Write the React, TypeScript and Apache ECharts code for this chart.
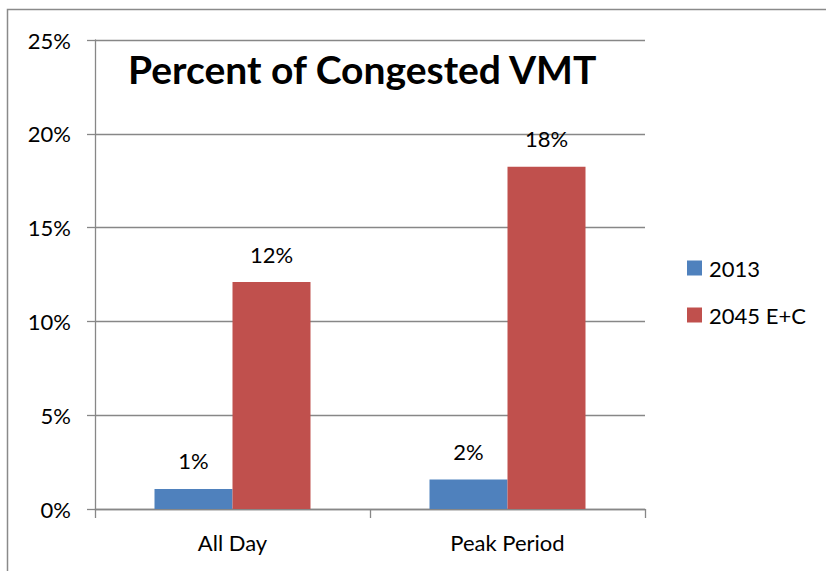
import React, { useEffect, useRef } from "react";
import * as echarts from "echarts";

const categories = ["All Day", "Peak Period"];
const series2013 = [1.07, 1.57];
const series2045 = [12.1, 18.25];
const seriesNames = ["2013", "2045 E+C"];
const yTicks = [0, 5, 10, 15, 20, 25];

const FONT = "Lato, 'Open Sans', sans-serif";
const AXIS_COLOR = "#878787";

export default function App() {
  const ref = useRef<HTMLDivElement>(null);
  useEffect(() => {
    if (!ref.current) return;
    const chart = echarts.init(ref.current, undefined, { renderer: "svg" });
    const labelCfg = {
      show: true,
      position: "top" as const,
      distance: 17,
      fontSize: 22,
      color: "#000",
      fontFamily: FONT,
      formatter: (p: any) => Math.round(p.value) + "%",
    };
    chart.setOption({
      animation: false,
      backgroundColor: "#fff",
      textStyle: { fontFamily: FONT },
      title: {
        text: "Percent of Congested VMT",
        left: 123,
        top: 44,
        textStyle: { fontSize: 39, fontWeight: "bold", color: "#000", fontFamily: FONT },
      },
      legend: {
        orient: "vertical",
        left: 682,
        top: 252,
        itemWidth: 15,
        itemHeight: 15,
        itemGap: 25,
        icon: "rect",
        data: seriesNames,
        textStyle: { fontSize: 22, color: "#000", fontFamily: FONT, padding: [0, 0, 0, 2] },
      },
      graphic: [
        {
          type: "rect",
          shape: { x: 7.5, y: 9.5, width: 900, height: 700 },
          style: { fill: "none", stroke: "#8a8a8a", lineWidth: 1.5 },
          silent: true,
          z: 100,
        },
      ],
      grid: { left: 95, right: 181, top: 40, bottom: 62 },
      xAxis: {
        type: "category",
        data: categories,
        axisLine: { lineStyle: { color: AXIS_COLOR, width: 1.3 } },
        axisTick: { show: true, length: 9, lineStyle: { color: AXIS_COLOR, width: 1.3 } },
        axisLabel: { fontSize: 22, color: "#000", margin: 22, fontFamily: FONT },
      },
      yAxis: {
        type: "value",
        min: yTicks[0],
        max: yTicks[yTicks.length - 1],
        interval: 5,
        axisLine: { show: true, lineStyle: { color: AXIS_COLOR, width: 1.3 } },
        axisTick: { show: true, length: 8, lineStyle: { color: AXIS_COLOR, width: 1.3 } },
        splitLine: { show: true, lineStyle: { color: AXIS_COLOR, width: 1.3 } },
        axisLabel: { fontSize: 22, color: "#000", margin: 24, fontFamily: FONT, formatter: "{value}%" },
      },
      series: [
        {
          name: seriesNames[0],
          type: "bar",
          data: series2013,
          barWidth: 78,
          barGap: "0%",
          itemStyle: { color: "#4F81BD" },
          label: labelCfg,
        },
        {
          name: seriesNames[1],
          type: "bar",
          data: series2045,
          barWidth: 78,
          barGap: "0%",
          itemStyle: { color: "#C0504D" },
          label: labelCfg,
        },
      ],
    });
    return () => chart.dispose();
  }, []);
  return (
    <div
      ref={ref}
      style={{ position: "fixed", left: 0, top: 0, width: 826, height: 571 }}
    />
  );
}
